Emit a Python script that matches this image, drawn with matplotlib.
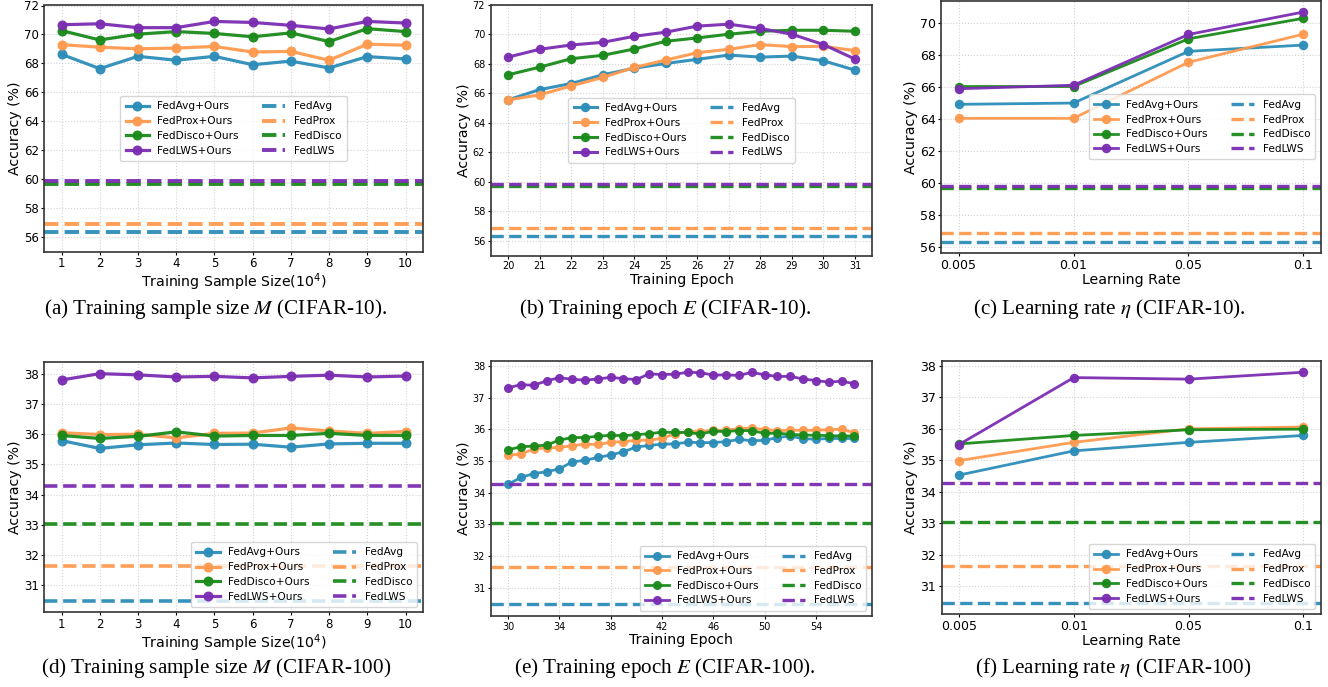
import matplotlib
matplotlib.use("Agg")
import matplotlib.pyplot as plt

# ---------------- data ----------------
sample_sizes = [1, 2, 3, 4, 5, 6, 7, 8, 9, 10]
epochs_c10 = list(range(20, 32))
epochs_c100 = list(range(30, 58))
lr_labels = ["0.005", "0.01", "0.05", "0.1"]

methods_ours = ["FedAvg+Ours", "FedProx+Ours", "FedDisco+Ours", "FedLWS+Ours"]
methods_base = ["FedAvg", "FedProx", "FedDisco", "FedLWS"]

base_c10 = [56.35, 56.90, 59.70, 59.85]
base_c100 = [30.47, 31.64, 33.03, 34.27]

# (a) sample size, CIFAR-10
a_avg = [68.63, 67.64, 68.49, 68.22, 68.49, 67.91, 68.16, 67.69, 68.47, 68.31]
a_prox = [69.30, 69.12, 69.01, 69.06, 69.17, 68.79, 68.83, 68.22, 69.33, 69.26]
a_disco = [70.27, 69.62, 70.02, 70.20, 70.07, 69.84, 70.11, 69.51, 70.40, 70.20]
a_lws = [70.67, 70.74, 70.47, 70.47, 70.90, 70.83, 70.63, 70.38, 70.90, 70.79]

# (b) epoch, CIFAR-10
b_avg = [65.55, 66.25, 66.66, 67.25, 67.70, 68.02, 68.30, 68.59, 68.45, 68.52, 68.20, 67.57]
b_prox = [65.55, 65.89, 66.50, 67.07, 67.75, 68.25, 68.75, 68.98, 69.30, 69.16, 69.18, 68.89]
b_disco = [67.25, 67.77, 68.34, 68.57, 69.00, 69.52, 69.75, 70.00, 70.20, 70.27, 70.27, 70.20]
b_lws = [68.45, 68.98, 69.27, 69.45, 69.86, 70.14, 70.55, 70.68, 70.39, 70.00, 69.30, 68.32]

# (c) learning rate, CIFAR-10
c_avg = [64.91, 64.99, 68.21, 68.60]
c_prox = [64.04, 64.04, 67.53, 69.28]
c_disco = [66.02, 66.02, 68.99, 70.27]
c_lws = [65.88, 66.10, 69.26, 70.66]

# (d) sample size, CIFAR-100
d_avg = [35.79, 35.53, 35.65, 35.71, 35.66, 35.67, 35.57, 35.68, 35.70, 35.70]
d_prox = [36.05, 35.99, 36.00, 35.88, 36.03, 36.04, 36.21, 36.11, 36.03, 36.09]
d_disco = [35.96, 35.86, 35.93, 36.08, 35.94, 35.96, 35.96, 36.03, 35.96, 35.96]
d_lws = [37.80, 38.01, 37.97, 37.90, 37.92, 37.87, 37.92, 37.96, 37.90, 37.93]

# (e) epoch, CIFAR-100
e_avg = [34.26, 34.48, 34.60, 34.66, 34.75, 34.97, 35.02, 35.11, 35.19, 35.29,
         35.44, 35.49, 35.53, 35.54, 35.59, 35.58, 35.58, 35.61, 35.68, 35.64,
         35.65, 35.74, 35.79, 35.70, 35.69, 35.71, 35.71, 35.71]
e_prox = [35.19, 35.21, 35.38, 35.41, 35.43, 35.48, 35.53, 35.52, 35.59, 35.61,
          35.65, 35.66, 35.71, 35.86, 35.93, 35.93, 35.97, 35.97, 36.02, 36.04,
          35.99, 35.96, 35.97, 35.97, 35.97, 35.99, 36.00, 35.89]
e_disco = [35.35, 35.45, 35.47, 35.50, 35.66, 35.74, 35.74, 35.78, 35.81, 35.80,
           35.83, 35.86, 35.91, 35.90, 35.90, 35.85, 35.94, 35.93, 35.96, 35.96,
           35.87, 35.88, 35.84, 35.82, 35.81, 35.80, 35.79, 35.79]
e_lws = [37.31, 37.41, 37.39, 37.53, 37.63, 37.58, 37.55, 37.59, 37.64, 37.60,
         37.57, 37.75, 37.73, 37.74, 37.80, 37.79, 37.71, 37.72, 37.70, 37.80,
         37.72, 37.67, 37.67, 37.59, 37.54, 37.49, 37.52, 37.44]

# (f) learning rate, CIFAR-100
f_avg = [34.53, 35.30, 35.57, 35.79]
f_prox = [34.99, 35.57, 36.00, 36.06]
f_disco = [35.52, 35.79, 35.97, 35.99]
f_lws = [35.50, 37.63, 37.58, 37.80]

captions = [
    "(a) Training sample size $M$ (CIFAR-10).",
    "(b) Training epoch $E$ (CIFAR-10).",
    r"(c) Learning rate $\eta$ (CIFAR-10).",
    "(d) Training sample size $M$ (CIFAR-100)",
    "(e) Training epoch $E$ (CIFAR-100).",
    r"(f) Learning rate $\eta$ (CIFAR-100)",
]

colors = ["#2C8DB8", "#FF9A4F", "#1A8A1A", "#7B2DB2"]

W, H = 1328, 687
fig = plt.figure(figsize=(W / 100, H / 100), dpi=100)


def ax_px(left, top, right, bottom):
    return fig.add_axes([left / W, 1 - bottom / H, (right - left) / W, (bottom - top) / H])


panels = [
    dict(box=(44.3, 5.5, 422.7, 251.7), x=sample_sizes, ys=[a_avg, a_prox, a_disco, a_lws],
         base=base_c10, ylim=(55, 72), yticks=range(56, 73, 2), xticks=sample_sizes,
         xlabel="Training Sample Size($10^4$)", loc="center", tick=8.5, ms=6.2, lw=2.3, blw=2.8),
    dict(box=(490.7, 4.7, 872.3, 255.7), x=epochs_c10, ys=[b_avg, b_prox, b_disco, b_lws],
         base=base_c10, ylim=(55, 72), yticks=range(56, 73, 2), xticks=epochs_c10,
         xlabel="Training Epoch", loc="center", tick=7, ms=5.8, lw=2.2, blw=2.4),
    dict(box=(941.3, 0.5, 1320.7, 253.3), x=list(range(4)), ys=[c_avg, c_prox, c_disco, c_lws],
         base=base_c10, ylim=None, yticks=range(56, 71, 2), xticks=list(range(4)),
         xlabel="Learning Rate", loc="center right", tick=9, ms=5.8, lw=2.0, blw=2.4),
    dict(box=(44.3, 362.3, 422.7, 612.3), x=sample_sizes, ys=[d_avg, d_prox, d_disco, d_lws],
         base=base_c100, ylim=None, yticks=range(31, 39), xticks=sample_sizes,
         xlabel="Training Sample Size($10^4$)", loc="lower right", tick=8.5, ms=6.2, lw=2.3, blw=2.6),
    dict(box=(490.7, 360.7, 871.7, 616.0), x=epochs_c100, ys=[e_avg, e_prox, e_disco, e_lws],
         base=base_c100, ylim=None, yticks=range(31, 39), xticks=list(range(30, 58, 4)),
         xlabel="Training Epoch", loc="lower right", tick=7, ms=5.5, lw=2.0, blw=2.4),
    dict(box=(941.7, 360.7, 1320.7, 614.3), x=list(range(4)), ys=[f_avg, f_prox, f_disco, f_lws],
         base=base_c100, ylim=None, yticks=range(31, 39), xticks=list(range(4)),
         xlabel="Learning Rate", loc="lower right", tick=9, ms=5.8, lw=2.0, blw=2.4),
]

cap_pos = [(216, 309), (665, 309), (1109, 309), (216, 668), (665, 668), (1113, 668)]

for i, p in enumerate(panels):
    ax = ax_px(*p["box"])
    handles = []
    for c, name, y in zip(colors, methods_ours, p["ys"]):
        h, = ax.plot(p["x"], y, "-o", color=c, lw=p["lw"], ms=p["ms"], label=name, alpha=0.95)
        handles.append(h)
    for c, name, b in zip(colors, methods_base, p["base"]):
        h = ax.axhline(b, color=c, ls="--", lw=p["blw"], label=name, alpha=0.95)
        handles.append(h)
    if p["ylim"] is not None:
        ax.set_ylim(*p["ylim"])
    ax.set_yticks(list(p["yticks"]))
    ax.set_xticks(p["xticks"])
    if i in (2, 5):
        ax.set_xticklabels(lr_labels)
    ax.tick_params(labelsize=p["tick"], length=2.5, width=0.8, pad=1.5)
    ax.set_xlabel(p["xlabel"], fontsize=10.2, labelpad=1)
    ax.set_ylabel("Accuracy (%)", fontsize=10.2, labelpad=1.5)
    ax.grid(True, ls=":", color="#c8c8c8", lw=0.8, alpha=0.8)
    for s in ax.spines.values():
        s.set_color("#333333")
        s.set_linewidth(1.2)
    ax.legend(handles=handles, ncol=2, loc=p["loc"], fontsize=7.6, columnspacing=2.2,
              handlelength=2.2, borderpad=0.5, labelspacing=0.45, fancybox=True)
    cx, cy = cap_pos[i]
    fig.text(cx / W, 1 - cy / H, captions[i], ha="center", va="center", fontsize=15.2,
             family="Liberation Serif", math_fontfamily="stix")

fig.savefig("out.png", dpi=100)
